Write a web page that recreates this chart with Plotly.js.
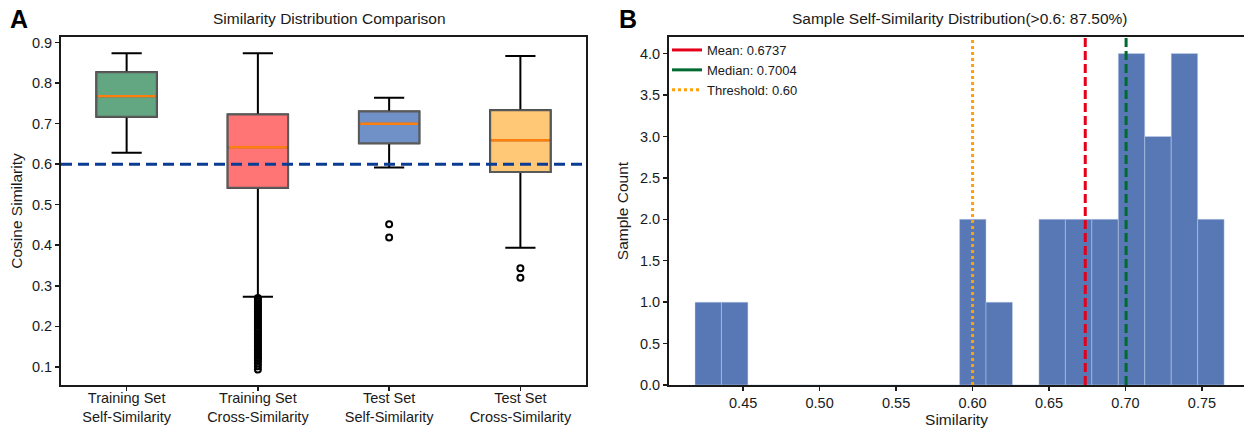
<!DOCTYPE html>
<html>
<head>
<meta charset="utf-8">
<script src="https://cdn.plot.ly/plotly-3.0.1.min.js"></script>
<style>html,body{margin:0;padding:0;background:#fff;}#chart{width:1244px;height:431px;}</style>
</head>
<body>
<div id="chart"></div>
<script>
// ---------- Panel A data (box statistics) ----------
const categoriesA = ['Training Set<br>Self-Similarity', 'Training Set<br>Cross-Similarity', 'Test Set<br>Self-Similarity', 'Test Set<br>Cross-Similarity'];
const lowerFence = [0.628, 0.273, 0.592, 0.394];
const q1Vals     = [0.717, 0.542, 0.652, 0.581];
const medianVals = [0.768, 0.642, 0.700, 0.659];
const q3Vals     = [0.827, 0.723, 0.730, 0.733];
const upperFence = [0.874, 0.874, 0.764, 0.867];
const boxFills   = ['#62a682', '#ff7474', '#7090c8', '#ffc877'];
const outliersTrainCross = [0.270, 0.266, 0.261, 0.257, 0.252, 0.249, 0.244, 0.240, 0.236, 0.231, 0.227, 0.222, 0.218, 0.214, 0.209, 0.205, 0.201, 0.196, 0.192, 0.188, 0.183, 0.179, 0.175, 0.170, 0.166, 0.162, 0.157, 0.153, 0.149, 0.144, 0.140, 0.136, 0.131, 0.127, 0.123, 0.119, 0.114, 0.108, 0.101, 0.093];
const outliersTestSelf = [0.452, 0.419];
const outliersTestCross = [0.343, 0.320];
const thresholdA = 0.6;

// ---------- Panel B data (histogram) ----------
const binStarts = [0.4185, 0.4358, 0.4531, 0.4704, 0.4877, 0.5050, 0.5223, 0.5396, 0.5569, 0.5742, 0.5915, 0.6088, 0.6261, 0.6434, 0.6607, 0.6780, 0.6953, 0.7126, 0.7299, 0.7472];
const binCounts = [1, 1, 0, 0, 0, 0, 0, 0, 0, 0, 2, 1, 0, 2, 2, 2, 4, 3, 4, 2];
const binWidth = 0.0173;
const meanVal = 0.6737;
const medianValB = 0.7004;
const thresholdB = 0.60;
const xTicksB = [0.45, 0.50, 0.55, 0.60, 0.65, 0.70, 0.75];

const FONT = 'Liberation Sans, Arial, sans-serif';
const TXT = '#1a1a1a';
const traces = [];

for (let i = 0; i < categoriesA.length; i++) {
  const cat = [categoriesA[i]];
  // whiskers + caps (black)
  traces.push({
    type: 'box', x: cat, q1: [q1Vals[i]], median: [medianVals[i]], q3: [q3Vals[i]],
    lowerfence: [lowerFence[i]], upperfence: [upperFence[i]],
    width: 0.46, whiskerwidth: 0.5, boxpoints: false,
    fillcolor: 'rgba(0,0,0,0)', line: {color: '#000', width: 2},
    showlegend: false, hoverinfo: 'skip', xaxis: 'x', yaxis: 'y'
  });
  // filled box with grey edge
  traces.push({
    type: 'box', x: cat, q1: [q1Vals[i]], median: [medianVals[i]], q3: [q3Vals[i]],
    lowerfence: [q1Vals[i]], upperfence: [q3Vals[i]],
    width: 0.46, whiskerwidth: 0, boxpoints: false,
    fillcolor: boxFills[i], line: {color: '#5a5a5a', width: 2},
    showlegend: false, hoverinfo: 'skip', xaxis: 'x', yaxis: 'y'
  });
  // orange median
  traces.push({
    type: 'box', x: cat, q1: [medianVals[i]], median: [medianVals[i]], q3: [medianVals[i]],
    lowerfence: [medianVals[i]], upperfence: [medianVals[i]],
    width: 0.44, whiskerwidth: 0, boxpoints: false,
    fillcolor: 'rgba(0,0,0,0)', line: {color: '#ff7f0e', width: 2.4},
    showlegend: false, hoverinfo: 'skip', xaxis: 'x', yaxis: 'y'
  });
}

function outlierTrace(catIdx, vals) {
  return {
    type: 'scatter', mode: 'markers', x: vals.map(() => categoriesA[catIdx]), y: vals,
    marker: {symbol: 'circle-open', size: 6, color: '#000', line: {width: 2, color: '#000'}},
    showlegend: false, hoverinfo: 'skip', xaxis: 'x', yaxis: 'y'
  };
}
traces.push(outlierTrace(1, outliersTrainCross));
traces.push(outlierTrace(2, outliersTestSelf));
traces.push(outlierTrace(3, outliersTestCross));

// Histogram bars
traces.push({
  type: 'bar', x: binStarts, y: binCounts, width: binWidth, offset: 0,
  marker: {color: '#5878b5', line: {color: 'rgba(200,212,238,0.55)', width: 0.8}},
  showlegend: false, hoverinfo: 'skip', xaxis: 'x2', yaxis: 'y2'
});

// Legend entries for the reference lines
traces.push({type: 'scatter', mode: 'lines', x: [null], y: [null], name: 'Mean: ' + meanVal.toFixed(4),
  line: {color: '#e5001a', width: 3}, xaxis: 'x2', yaxis: 'y2'});
traces.push({type: 'scatter', mode: 'lines', x: [null], y: [null], name: 'Median: ' + medianValB.toFixed(4),
  line: {color: '#006b30', width: 3}, xaxis: 'x2', yaxis: 'y2'});
traces.push({type: 'scatter', mode: 'lines', x: [null], y: [null], name: 'Threshold: ' + thresholdB.toFixed(2),
  line: {color: '#ffa00a', width: 3, dash: '3px,3px'}, xaxis: 'x2', yaxis: 'y2'});

const axisCommon = {
  showgrid: false, zeroline: false, showline: true, linecolor: '#1a1a1a', linewidth: 2,
  ticks: 'outside', ticklen: 4, tickwidth: 1.5, tickcolor: '#1a1a1a',
  tickfont: {family: FONT, size: 14.5, color: TXT}
};

const layout = {
  width: 1244, height: 431,
  margin: {l: 0, r: 0, t: 0, b: 0},
  paper_bgcolor: '#fff', plot_bgcolor: '#fff',
  font: {family: FONT, color: TXT},
  boxmode: 'overlay',
  xaxis: Object.assign({}, axisCommon, {
    domain: [61/1244, 586/1244], anchor: 'y', type: 'category',
    categoryorder: 'array', categoryarray: categoriesA, range: [-0.5, 3.5], mirror: true,
    tickfont: {family: FONT, size: 14.5, color: TXT}, ticklabelstandoff: -5
  }),
  yaxis: Object.assign({}, axisCommon, {
    domain: [46/431, 394/431], anchor: 'x', range: [0.055, 0.914], mirror: true,
    tickvals: [0.1, 0.2, 0.3, 0.4, 0.5, 0.6, 0.7, 0.8, 0.9], tickformat: '.1f',
    title: {text: 'Cosine Similarity', font: {family: FONT, size: 15.5, color: TXT}, standoff: 6}
  }),
  xaxis2: Object.assign({}, axisCommon, {
    domain: [669/1244, 1], anchor: 'y2', range: [0.4015, 0.7775], mirror: true,
    tickvals: xTicksB, tickformat: '.2f',
    title: {text: 'Similarity', font: {family: FONT, size: 15.5, color: TXT}, standoff: 0}
  }),
  yaxis2: Object.assign({}, axisCommon, {
    domain: [46/431, 394/431], anchor: 'x2', range: [0, 4.2],
    tickvals: [0, 0.5, 1, 1.5, 2, 2.5, 3, 3.5, 4], tickformat: '.1f',
    title: {text: 'Sample Count', font: {family: FONT, size: 15.5, color: TXT}, standoff: 8}
  }),
  legend: {
    x: 667/1244, y: 396/431, xanchor: 'left', yanchor: 'top',
    bgcolor: 'rgba(255,255,255,0)', borderwidth: 0,
    font: {family: FONT, size: 13, color: TXT}, tracegroupgap: 0
  },
  shapes: [
    {type: 'line', xref: 'x domain', yref: 'y', x0: 0, x1: 1, y0: thresholdA, y1: thresholdA,
     line: {color: '#0b3c94', width: 3, dash: '11px,6px'}, layer: 'above'},
    {type: 'line', xref: 'x2', yref: 'y2 domain', x0: thresholdB, x1: thresholdB, y0: 0, y1: 1,
     line: {color: '#ffa00a', width: 3, dash: '3px,3px'}, layer: 'above'},
    {type: 'line', xref: 'x2', yref: 'y2 domain', x0: meanVal, x1: meanVal, y0: 0, y1: 1,
     line: {color: '#e5001a', width: 3, dash: '9px,4px'}, layer: 'above'},
    {type: 'line', xref: 'x2', yref: 'y2 domain', x0: medianValB, x1: medianValB, y0: 0, y1: 1,
     line: {color: '#006b30', width: 3, dash: '9px,4px'}, layer: 'above'}
  ],
  annotations: [
    {text: 'Similarity Distribution Comparison', xref: 'paper', yref: 'paper',
     x: 329 / 1244, y: (431 - 18) / 431, xanchor: 'center', yanchor: 'middle',
     showarrow: false, font: {family: FONT, size: 15.5, color: TXT}},
    {text: 'Sample Self-Similarity Distribution(>0.6: 87.50%)', xref: 'paper', yref: 'paper',
     x: 960 / 1244, y: (431 - 18) / 431, xanchor: 'center', yanchor: 'middle',
     showarrow: false, font: {family: FONT, size: 15.5, color: TXT}},
    {text: '<b>A</b>', xref: 'paper', yref: 'paper', x: 19 / 1244, y: (431 - 19) / 431,
     xanchor: 'center', yanchor: 'middle', showarrow: false, font: {family: FONT, size: 25, color: '#000'}},
    {text: '<b>B</b>', xref: 'paper', yref: 'paper', x: 628 / 1244, y: (431 - 19) / 431,
     xanchor: 'center', yanchor: 'middle', showarrow: false, font: {family: FONT, size: 25, color: '#000'}}
  ]
};

Plotly.newPlot('chart', traces, layout, {displayModeBar: false, staticPlot: true});
</script>
</body>
</html>
